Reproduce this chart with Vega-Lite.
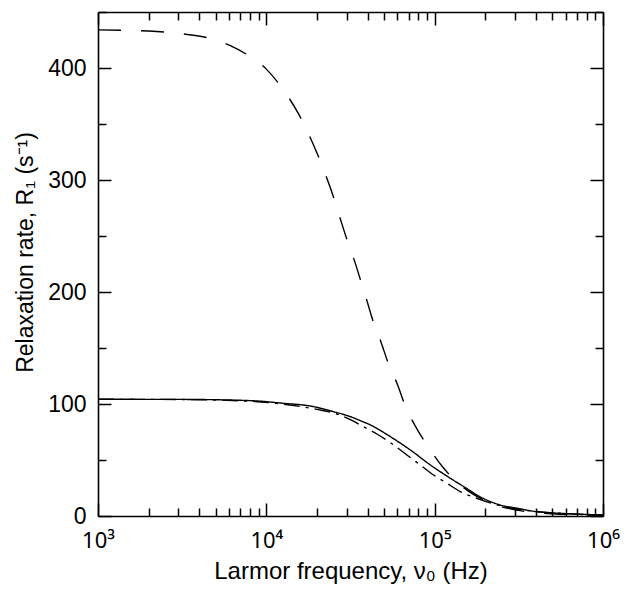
{
  "$schema": "https://vega.github.io/schema/vega-lite/v6.json",
  "width": 505,
  "height": 504,
  "autosize": "none",
  "padding": {"left": 98, "top": 12, "right": 21, "bottom": 77},
  "background": "white",
  "config": {
    "view": {"stroke": null},
    "font": "Liberation Sans",
    "axis": {
      "grid": false,
      "domainColor": "black",
      "domainWidth": 1.6,
      "tickColor": "black",
      "tickWidth": 1.5,
      "labelColor": "black",
      "labelFont": "Liberation Sans",
      "labelFontSize": 23,
      "titleFont": "Liberation Sans",
      "titleFontSize": 23,
      "titleFontWeight": "normal",
      "titleColor": "black",
      "labelFlush": false,
      "labelOverlap": false,
      "labelBound": false
    }
  },
  "datasets": {
    "curves": [
      {"nu": 1000, "R": 434, "s": "dashed"},
      {"nu": 2000, "R": 433, "s": "dashed"},
      {"nu": 3162, "R": 430.5, "s": "dashed"},
      {"nu": 5012, "R": 425, "s": "dashed"},
      {"nu": 6110, "R": 420, "s": "dashed"},
      {"nu": 7674, "R": 412, "s": "dashed"},
      {"nu": 10000, "R": 399, "s": "dashed"},
      {"nu": 12680, "R": 380, "s": "dashed"},
      {"nu": 15420, "R": 360, "s": "dashed"},
      {"nu": 17700, "R": 342, "s": "dashed"},
      {"nu": 20000, "R": 324, "s": "dashed"},
      {"nu": 22440, "R": 305, "s": "dashed"},
      {"nu": 24770, "R": 287, "s": "dashed"},
      {"nu": 27290, "R": 267, "s": "dashed"},
      {"nu": 29790, "R": 249, "s": "dashed"},
      {"nu": 33040, "R": 230, "s": "dashed"},
      {"nu": 36220, "R": 211, "s": "dashed"},
      {"nu": 39630, "R": 192, "s": "dashed"},
      {"nu": 42850, "R": 175, "s": "dashed"},
      {"nu": 48080, "R": 155, "s": "dashed"},
      {"nu": 52840, "R": 137, "s": "dashed"},
      {"nu": 60260, "R": 117, "s": "dashed"},
      {"nu": 66990, "R": 98, "s": "dashed"},
      {"nu": 76910, "R": 80, "s": "dashed"},
      {"nu": 92260, "R": 61, "s": "dashed"},
      {"nu": 113200, "R": 42.6, "s": "dashed"},
      {"nu": 141250, "R": 28, "s": "dashed"},
      {"nu": 177800, "R": 17.5, "s": "dashed"},
      {"nu": 223900, "R": 10.5, "s": "dashed"},
      {"nu": 316200, "R": 5, "s": "dashed"},
      {"nu": 501200, "R": 2, "s": "dashed"},
      {"nu": 707900, "R": 1, "s": "dashed"},
      {"nu": 1000000, "R": 0.5, "s": "dashed"},

      {"nu": 1000, "R": 104.2, "s": "solid"},
      {"nu": 3162, "R": 104.1, "s": "solid"},
      {"nu": 8054, "R": 103, "s": "solid"},
      {"nu": 12680, "R": 100.6, "s": "solid"},
      {"nu": 18240, "R": 98.2, "s": "solid"},
      {"nu": 25120, "R": 93.1, "s": "solid"},
      {"nu": 31550, "R": 88.7, "s": "solid"},
      {"nu": 36220, "R": 85.1, "s": "solid"},
      {"nu": 41500, "R": 81.3, "s": "solid"},
      {"nu": 54580, "R": 70.8, "s": "solid"},
      {"nu": 71780, "R": 58.9, "s": "solid"},
      {"nu": 94410, "R": 45.5, "s": "solid"},
      {"nu": 124200, "R": 33.6, "s": "solid"},
      {"nu": 148900, "R": 26.2, "s": "solid"},
      {"nu": 195400, "R": 15.5, "s": "solid"},
      {"nu": 245500, "R": 9.8, "s": "solid"},
      {"nu": 309000, "R": 6.9, "s": "solid"},
      {"nu": 405500, "R": 3.8, "s": "solid"},
      {"nu": 558500, "R": 2.4, "s": "solid"},
      {"nu": 767400, "R": 1.5, "s": "solid"},
      {"nu": 1000000, "R": 0.9, "s": "solid"},

      {"nu": 1000, "R": 104.2, "s": "dashdot"},
      {"nu": 3162, "R": 104, "s": "dashdot"},
      {"nu": 7943, "R": 102.5, "s": "dashdot"},
      {"nu": 12590, "R": 99.8, "s": "dashdot"},
      {"nu": 19950, "R": 95.2, "s": "dashdot"},
      {"nu": 26300, "R": 91, "s": "dashdot"},
      {"nu": 31550, "R": 86, "s": "dashdot"},
      {"nu": 37840, "R": 79.7, "s": "dashdot"},
      {"nu": 45390, "R": 73.2, "s": "dashdot"},
      {"nu": 57020, "R": 63.4, "s": "dashdot"},
      {"nu": 68390, "R": 54.5, "s": "dashdot"},
      {"nu": 82220, "R": 45.5, "s": "dashdot"},
      {"nu": 98630, "R": 36.6, "s": "dashdot"},
      {"nu": 118300, "R": 29.2, "s": "dashdot"},
      {"nu": 142200, "R": 21.7, "s": "dashdot"},
      {"nu": 177800, "R": 15.8, "s": "dashdot"},
      {"nu": 223900, "R": 10.8, "s": "dashdot"},
      {"nu": 316200, "R": 6.0, "s": "dashdot"},
      {"nu": 446700, "R": 3.3, "s": "dashdot"},
      {"nu": 631000, "R": 1.9, "s": "dashdot"},
      {"nu": 1000000, "R": 0.9, "s": "dashdot"}
    ]
  },
  "resolve": {"axis": {"x": "independent", "y": "independent"}},
  "layer": [
    {
      "data": {"name": "curves"},
      "transform": [{"filter": "datum.s !== 'dashed'"}],
      "mark": {"type": "line", "color": "black", "strokeWidth": 1.4, "interpolate": "monotone", "clip": true},
      "encoding": {
        "x": {
          "field": "nu", "type": "quantitative",
          "scale": {"type": "log", "domain": [1000, 1000000], "nice": false},
          "axis": {
            "orient": "bottom",
            "values": [1000,2000,3000,4000,5000,6000,7000,8000,9000,10000,20000,30000,40000,50000,60000,70000,80000,90000,100000,200000,300000,400000,500000,600000,700000,800000,900000,1000000],
            "labelExpr": "datum.value == 1000 ? '10³' : datum.value == 10000 ? '10⁴' : datum.value == 100000 ? '10⁵' : datum.value == 1000000 ? '10⁶' : ''",
            "labelFont": "Noto Sans",
            "labelFontSize": 22,
            "tickSize": {"condition": {"test": "indexof([1000,10000,100000,1000000], datum.value) >= 0", "value": -13}, "value": -8},
            "labelPadding": 27,
            "title": "Larmor frequency, ν₀ (Hz)",
            "titleFontSize": 24,
            "titlePadding": 3
          }
        },
        "y": {
          "field": "R", "type": "quantitative",
          "scale": {"domain": [0, 450], "nice": false, "zero": true},
          "axis": {
            "orient": "left",
            "values": [0,50,100,150,200,250,300,350,400,450],
            "labelExpr": "datum.value % 100 === 0 ? datum.label : ''",
            "tickSize": {"condition": {"test": "datum.value % 100 === 0", "value": -13}, "value": -8},
            "labelPadding": 25,
            "title": "Relaxation rate, R₁ (s⁻¹)",
            "titleY": 240,
            "titlePadding": 10
          }
        },
        "strokeDash": {
          "field": "s", "type": "nominal",
          "scale": {"domain": ["solid", "dashed", "dashdot"], "range": [[1, 0], [23, 20], [16, 6, 3, 6]]},
          "legend": null
        }
      }
    },
    {
      "data": {"name": "curves"},
      "transform": [{"filter": "datum.s === 'dashed'"}],
      "mark": {"type": "line", "color": "black", "strokeWidth": 1.4, "interpolate": "monotone", "clip": true},
      "encoding": {
        "x": {
          "field": "nu", "type": "quantitative",
          "scale": {"type": "log", "domain": [1000, 1000000], "nice": false},
          "axis": {
            "orient": "top",
            "values": [1000,2000,3000,4000,5000,6000,7000,8000,9000,10000,20000,30000,40000,50000,60000,70000,80000,90000,100000,200000,300000,400000,500000,600000,700000,800000,900000,1000000],
            "labels": false,
            "tickSize": {"condition": {"test": "indexof([1000,10000,100000,1000000], datum.value) >= 0", "value": -13}, "value": -8},
            "title": null
          }
        },
        "y": {
          "field": "R", "type": "quantitative",
          "scale": {"domain": [0, 450], "nice": false, "zero": true},
          "axis": {
            "orient": "right",
            "values": [0,50,100,150,200,250,300,350,400,450],
            "labels": false,
            "tickSize": {"condition": {"test": "datum.value % 100 === 0", "value": -13}, "value": -8},
            "title": null
          }
        },
        "strokeDash": {
          "field": "s", "type": "nominal",
          "scale": {"domain": ["solid", "dashed", "dashdot"], "range": [[1, 0], [23, 20], [16, 6, 3, 6]]},
          "legend": null
        }
      }
    }
  ]
}
